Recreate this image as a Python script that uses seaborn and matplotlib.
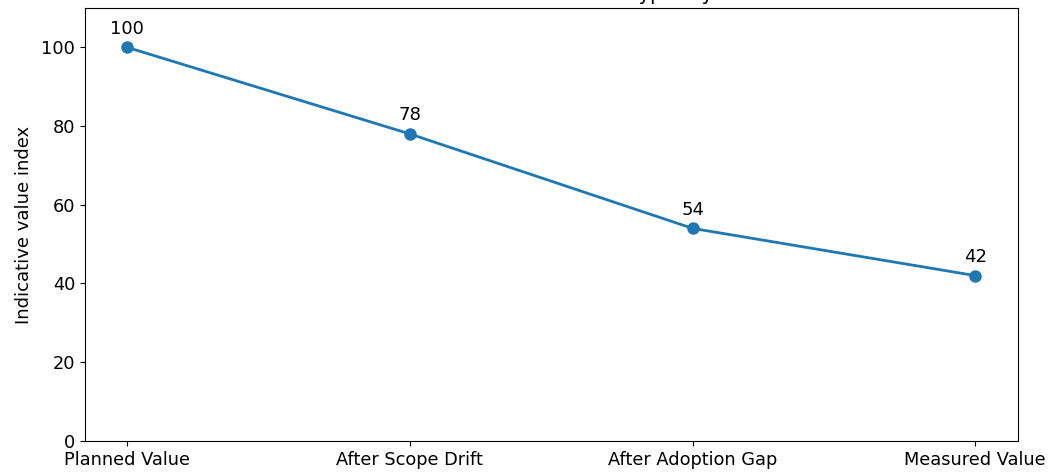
import pandas as pd
import matplotlib
matplotlib.use("Agg")
import matplotlib.pyplot as plt
import seaborn as sns

stages = ['Planned Value', 'After Scope Drift', 'After Adoption Gap', 'Measured Value']
values = [100, 78, 54, 42]

data = pd.DataFrame({'stage': stages, 'value': values})

fig, ax = plt.subplots(figsize=(10.48, 4.73), dpi=100)
sns.lineplot(x='stage', y='value', data=data, marker='o', markersize=9,
             linewidth=2, color='#1f77b4', markeredgewidth=0, ax=ax, sort=False)

for i, v in enumerate(values):
    ax.annotate(str(v), (i, v), xytext=(0, 7), textcoords='offset points',
                ha='center', va='bottom', fontsize=13)

ax.set_ylim(0, 110)
ax.set_xlabel('')
ax.set_ylabel('Indicative value index', fontsize=13, labelpad=6)
ax.tick_params(labelsize=12.8)
ax.set_title('Indicative Value Erosion: How Much Is Typically Retained', fontsize=14, x=0.4775)

fig.subplots_adjust(left=0.081, right=0.971, top=0.983, bottom=0.068)
fig.savefig('out.png')
